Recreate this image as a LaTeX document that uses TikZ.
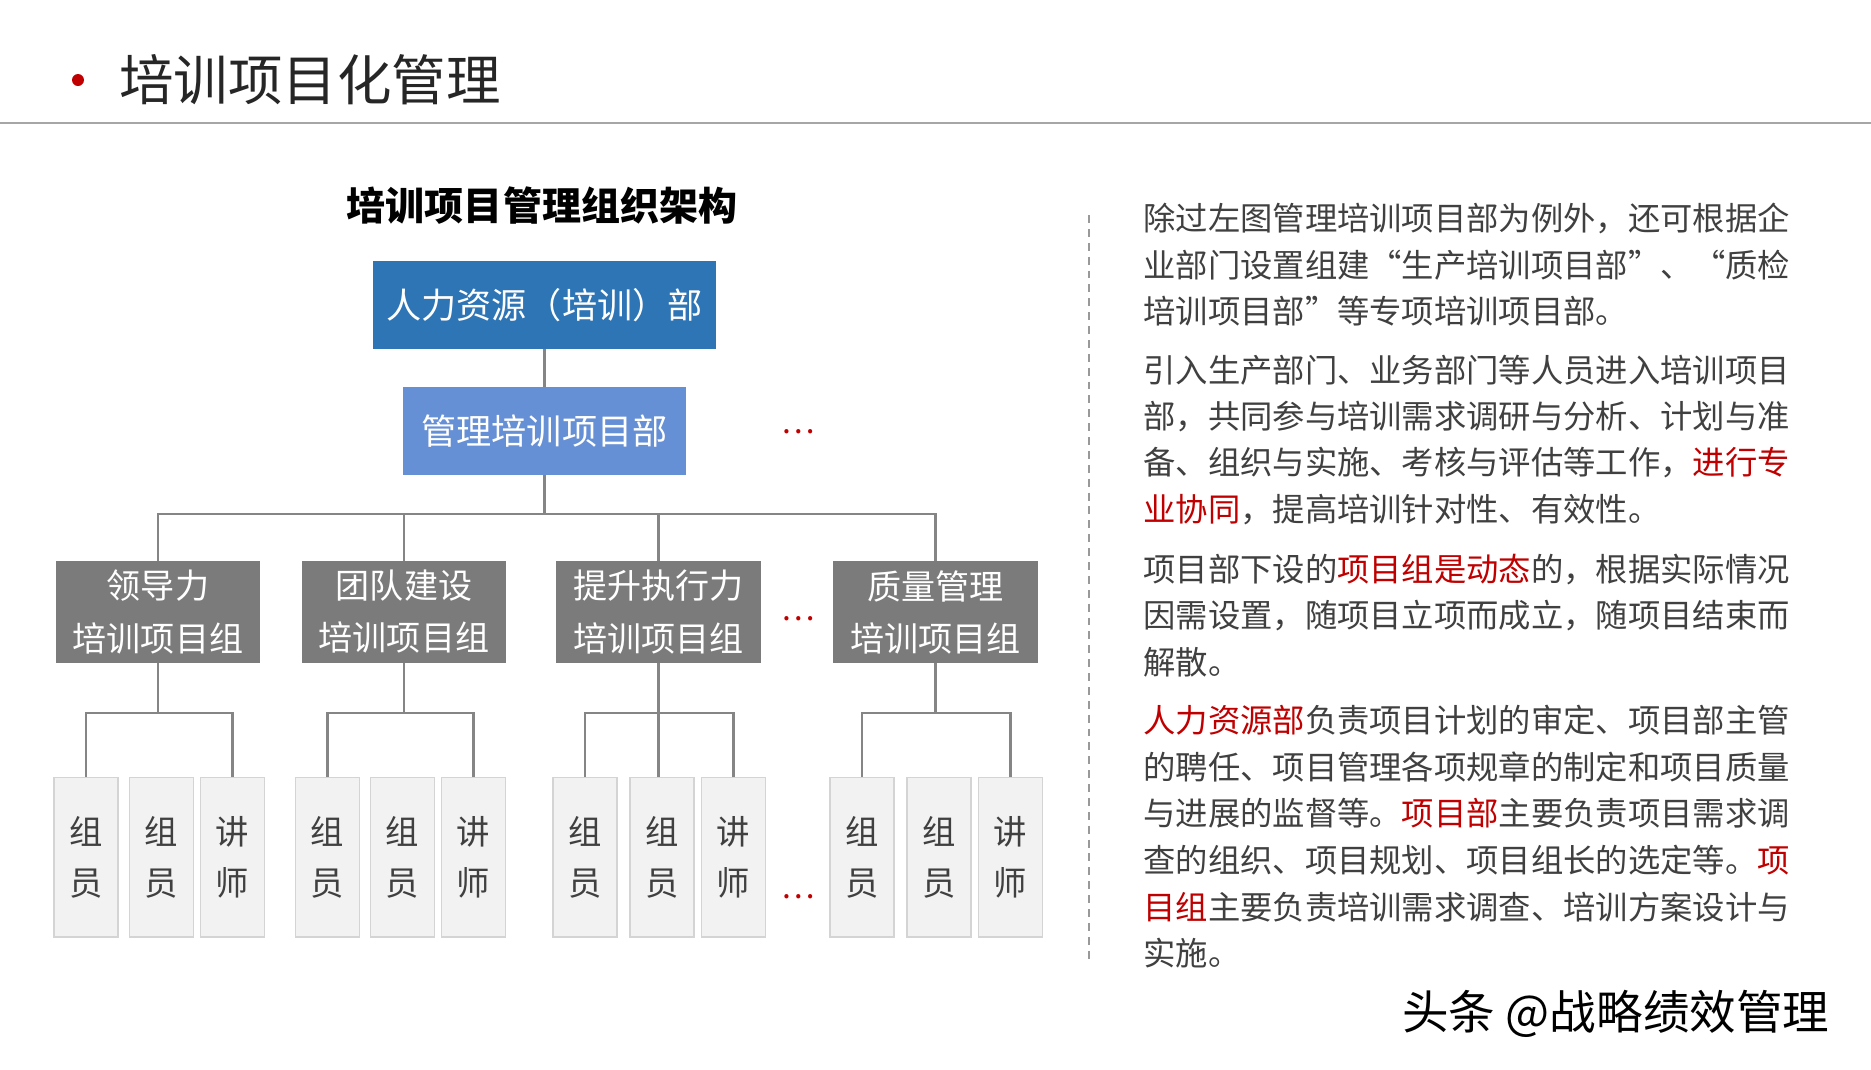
\documentclass[tikz,border=0pt]{standalone}
\usepackage{fontspec}
\setmainfont{Noto Sans CJK SC}
\usetikzlibrary{positioning}

\definecolor{hrblue}{HTML}{2E75B6}
\definecolor{deptblue}{HTML}{6690D5}
\definecolor{groupgray}{HTML}{7B7B7B}
\definecolor{leaffill}{HTML}{F2F2F2}
\definecolor{leafline}{HTML}{D4D4D4}
\definecolor{linkgray}{HTML}{858585}
\definecolor{txtgray}{HTML}{404040}
\definecolor{hl}{HTML}{C00000}

\begin{document}
\begin{tikzpicture}[
    x=0.02cm, y=-0.02cm,
    conn/.style={draw=linkgray, line width=1.6pt},
    topbox/.style={fill=hrblue, text=white, inner sep=0pt, minimum width=6.86cm, minimum height=1.76cm, font=\fontsize{20}{24}\selectfont},
    deptbox/.style={fill=deptblue, text=white, inner sep=0pt, minimum width=5.66cm, minimum height=1.76cm, font=\fontsize{20}{24}\selectfont},
    groupbox/.style={fill=groupgray, text=white, inner sep=0pt, minimum width=4.1cm, minimum height=2.04cm, align=center, font=\fontsize{19.4}{29.6}\selectfont},
    leafbox/.style={fill=leaffill, draw=leafline, line width=0.6pt, inner sep=0pt, minimum width=1.28cm, minimum height=3.2cm, align=center, text=txtgray, font=\fontsize{19}{29}\selectfont},
    dots/.style={text=hl, inner sep=0pt, font=\fontsize{18}{18}\selectfont},
    bodytxt/.style={anchor=west, inner sep=0pt, text=txtgray, font=\fontsize{18.4}{26.5}\selectfont}
]
    \fill[white] (0,0) rectangle (1871,1069);
    \useasboundingbox (0,0) rectangle (1871,1069);

    % header
    \node[circle, fill=hl, inner sep=0pt, minimum size=0.24cm] (bullet) at (78,80) {};
    \node[anchor=west, inner sep=0pt, text=black!85, font=\fontsize{31}{36}\selectfont] (title) at (119,80) {培训项目化管理};
    \draw[draw=black!35, line width=1.7pt] (0,123) -- (1871,123);

    % chart
    \node[font=\fontsize{22.2}{26}\selectfont\bfseries] (charttitle) at (542,206) {培训项目管理组织架构};
    \node[topbox] (hr) at (544.5,305) {人力资源（培训）部};
    \node[deptbox] (dept) at (544.5,431) {管理培训项目部};
    \draw[conn] (hr) -- (dept);

    \foreach \g/\gx/\name in {1/158/领导力, 2/404/团队建设, 3/658.5/提升执行力, 4/935.5/质量管理}
        \node[groupbox] (g\g) at (\gx,612) {\name\\培训项目组};

    \coordinate (bus) at (544.5,514);
    \draw[conn] (dept) -- (bus);
    \draw[conn] (g1.north) |- (bus) -| (g4.north);
    \draw[conn] (g2.north) -- (g2.north |- bus);
    \draw[conn] (g3.north) -- (g3.north |- bus);

    \foreach \g/\gx/\lx/\mx/\rx in {1/158/86/161.5/232.5, 2/404/327.5/402.5/473.5, 3/658.5/585/662/733.5, 4/935.5/862/939/1010.5}{
        \node[leafbox] (l\g-a) at (\lx,857) {组\\员};
        \node[leafbox] (l\g-b) at (\mx,857) {组\\员};
        \node[leafbox] (l\g-c) at (\rx,857) {讲\\师};
        \coordinate (s\g) at (\gx,713);
        \draw[conn] (g\g) -- (s\g);
        \draw[conn] (l\g-a.north) |- (s\g) -| (l\g-c.north);
    }
    \draw[conn] (s3) -- (s3 |- l3-b.north);

    \node[dots] (dots1) at (798,432) {…};
    \node[dots] (dots2) at (798,619) {…};
    \node[dots] (dots3) at (798,897) {…};

    % divider
    \draw[draw=black!40, line width=1.2pt, dash pattern=on 4.5pt off 3.4pt] (1089,215) -- (1089,960);

    % notes
    \foreach \yy/\tx [count=\k] in {
        218.3/{除过左图管理培训项目部为例外，还可根据企},
        264.8/{\makebox[12.94cm][l]{业部门设置组建“生产培训项目部”\hfill、\hfill“质检}},
        311.4/{培训项目部”等专项培训项目部。},
        369.8/{引入生产部门、业务部门等人员进入培训项目},
        416.4/{部，共同参与培训需求调研与分析、计划与准},
        462.9/{备、组织与实施、考核与评估等工作，{\color{hl}进行专}},
        509.4/{{\color{hl}业协同}，提高培训针对性、有效性。},
        569.1/{项目部下设的{\color{hl}项目组是动态}的，根据实际情况},
        615.6/{因需设置，随项目立项而成立，随项目结束而},
        662.1/{解散。},
        720.6/{{\color{hl}人力资源部}负责项目计划的审定、项目部主管},
        767.1/{的聘任、项目管理各项规章的制定和项目质量},
        813.6/{与进展的监督等。{\color{hl}项目部}主要负责项目需求调},
        860.2/{查的组织、项目规划、项目组长的选定等。{\color{hl}项}},
        906.7/{{\color{hl}目组}主要负责培训需求调查、培训方案设计与},
        953.2/{实施。}}
        \node[bodytxt] (note\k) at (1143,\yy) {\tx};

    \node[anchor=west, inner sep=0pt, font=\fontsize{26.5}{30}\selectfont] (mark) at (1402,1014) {头条 @战略绩效管理};
\end{tikzpicture}
\end{document}
